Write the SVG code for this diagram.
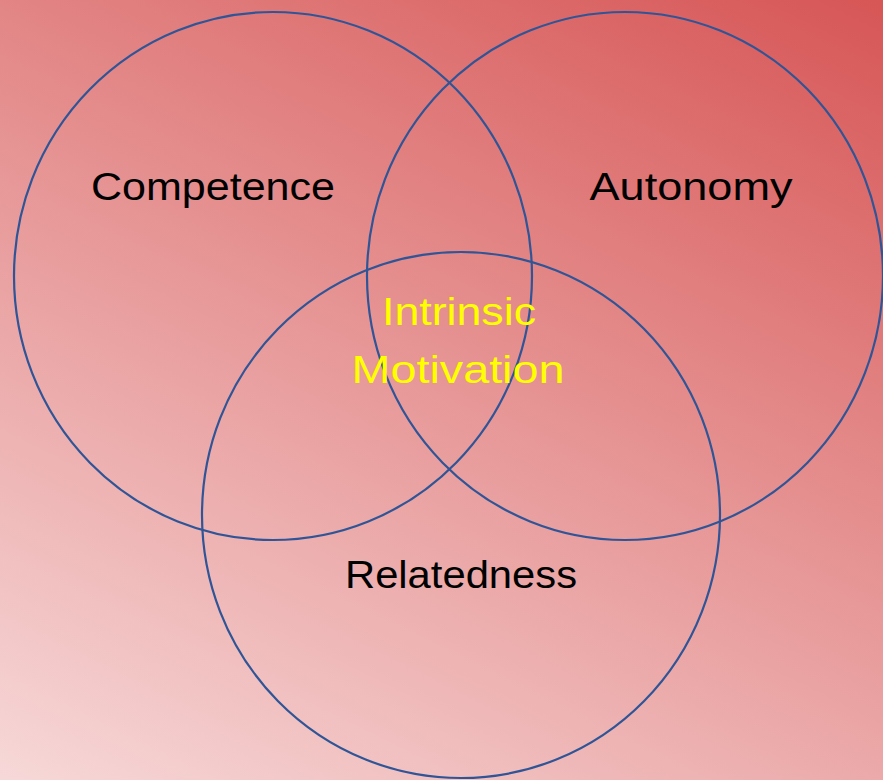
<svg xmlns="http://www.w3.org/2000/svg" width="883" height="780" viewBox="0 0 883 780">
<defs>
<linearGradient id="bg" x1="883" y1="0" x2="400" y2="977" gradientUnits="userSpaceOnUse">
<stop offset="0" stop-color="#d75656"/>
<stop offset="1" stop-color="#f7d8d8"/>
</linearGradient>
</defs>
<style>
.c{fill:none;stroke:#2f5597;stroke-width:2.2}
.t{font-family:"Liberation Sans",Arial,sans-serif;font-size:38px;fill:#000;text-anchor:middle}
.y{fill:#ffff00}
</style>
<rect width="883" height="780" fill="url(#bg)"/>
<g id="connectors"></g>
<g id="competence">
<ellipse class="c" cx="273" cy="276" rx="259" ry="264"/>
<text class="t" x="213" y="200" textLength="244" lengthAdjust="spacingAndGlyphs">Competence</text>
</g>
<g id="autonomy">
<ellipse class="c" cx="625" cy="276" rx="258" ry="264"/>
<text class="t" x="691" y="200" textLength="203" lengthAdjust="spacingAndGlyphs">Autonomy</text>
</g>
<g id="relatedness">
<ellipse class="c" cx="461" cy="515" rx="259" ry="263"/>
<text class="t" x="461" y="588" textLength="232" lengthAdjust="spacingAndGlyphs">Relatedness</text>
</g>
<g id="intrinsic">
<text class="t y" x="459" y="325" textLength="154" lengthAdjust="spacingAndGlyphs">Intrinsic</text>
<text class="t y" x="458" y="383" textLength="213" lengthAdjust="spacingAndGlyphs">Motivation</text>
</g>
</svg>
